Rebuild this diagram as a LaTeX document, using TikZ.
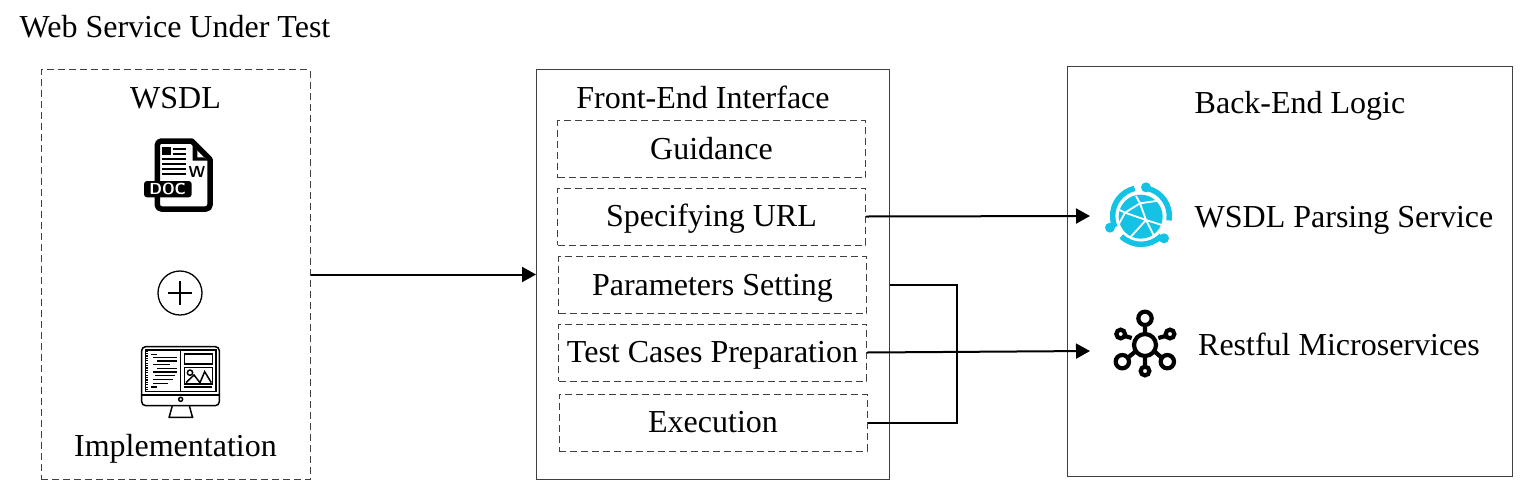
\documentclass[tikz,border=0pt]{standalone}
\usepackage{fontspec}
\setmainfont{Liberation Serif}
\usetikzlibrary{arrows.meta}
\definecolor{globecyan}{RGB}{20,195,228}
\tikzset{
    solidbox/.style={draw=black!75, line width=1pt},
    dashbox/.style={draw=black!75, line width=1pt, dash pattern=on 7pt off 4pt},
    stepbox/.style={dashbox, minimum width=308pt, minimum height=57pt, inner sep=0pt},
    label/.style={inner sep=0pt, text height=21pt, text depth=1pt, font=\fontsize{32}{34}\selectfont},
    flow/.style={line width=2pt, -{Triangle[length=14pt,width=15pt]}},
    wire/.style={line width=2pt}
}

\begin{document}
\begin{tikzpicture}[x=1pt,y=-1pt]
        \useasboundingbox (0,0) rectangle (1521,491);
        % outer boxes
        \node[dashbox, minimum width=269pt, minimum height=410pt, inner sep=0pt] (wsdlbox) at (175.5,274.5) {};
        \node[solidbox, minimum width=353pt, minimum height=410pt, inner sep=0pt] (frontbox) at (713,274.5) {};
        \node[solidbox, minimum width=445pt, minimum height=410pt, inner sep=0pt] (backbox) at (1290,271.5) {};
        % titles
        \node[label] (title) at (175,27) {Web Service Under Test};
        \node[label] (wsdl) at (175.5,98) {WSDL};
        \node[label] (impl) at (175.5,446) {Implementation};
        \node[label] (fronttitle) at (703,98) {Front-End Interface};
        \node[label] (backtitle) at (1300,103) {Back-End Logic};
        % steps
        \node[stepbox, label] (guidance) at (711.5,149) {Guidance};
        \node[stepbox, label] (url) at (711.5,216.5) {Specifying URL};
        \node[stepbox, label] (params) at (712.5,285) {Parameters Setting};
        \node[stepbox, label] (cases) at (712.5,352.5) {Test Cases Preparation};
        \node[stepbox, label] (exec) at (713,422.5) {Execution};
        % services
        \node[label] (parsing) at (1344,217) {WSDL Parsing Service};
        \node[label] (restful) at (1339,345.5) {Restful Microservices};
        \coordinate (parsingin) at (1090,216);
        \coordinate (restfulin) at (1090,351);
        \coordinate (joint) at (957,351);
        % connectors
        \draw[flow] (wsdlbox.east) -- (frontbox.west);
        \draw[flow] (url.east) -- (parsingin);
        \draw[flow] (cases.east) -- (restfulin);
        \draw[wire] (params.east -| frontbox.east) -| (joint);
        \draw[wire] (exec.east) -| (joint);
        % doc icon
        \begin{scope}[shift={(120,120)},scale=1/3]
            \draw[line width=5.5pt, line join=round] (112,200) -- (112,75) arc[start angle=180,end angle=270,radius=12] -- (215,63) -- (270,118) -- (270,255) arc[start angle=0,end angle=90,radius=12] -- (124,267) arc[start angle=90,end angle=180,radius=12] -- cycle;
            \fill (218,70) -- (218,122) -- (265,122) -- (250,112) -- (232,112) -- (232,92) -- cycle;
            \fill (127,82) rectangle (153,105);
            \fill (160,84) rectangle (198,90);
            \fill (160,98) rectangle (198,104);
            \fill (127,115) rectangle (198,121);
            \fill (127,130) rectangle (198,136);
            \fill (127,145) rectangle (198,151);
            \fill (127,160) rectangle (198,166);
            \fill[rounded corners=3pt] (72,183) rectangle (215,232);
            \node[text=white, inner sep=0pt, font=\fontsize{16}{16}\sffamily\bfseries] (doctext) at (143,208) {DOC};
            \node[inner sep=0pt, font=\fontsize{16}{16}\sffamily\bfseries] (wtext) at (231,155) {W};
        \end{scope}
        % plus sign
        \node[circle, draw, line width=1.3pt, minimum size=44pt, inner sep=0pt] (plus) at (180,293) {};
        \draw[line width=1.5pt] (plus.center) +(-12,0) -- +(12,0) (plus.center) +(0,-12) -- +(0,12);
        % monitor icon
        \begin{scope}[shift={(120,260)},scale=1/3, line width=1.5pt]
            \draw[rounded corners=4pt] (65,260) rectangle (298,437);
            \draw (65,405) -- (298,405);
            \draw (76,270) rectangle (288,395);
            \draw (182,270) -- (182,395);
            \draw[line width=2.6pt, dash pattern=on 1.2pt off 1.2pt] (80,272) -- (80,393);
            \draw (182,418) circle[radius=6];
            \draw (157,437) -- (148,470) (208,437) -- (217,470) (145,472) -- (220,472);
            \draw (193,282) rectangle (277,312);
            \draw (193,322) rectangle (277,372);
            \draw (193,381) -- (277,381);
            \draw (210,338) circle[radius=8];
            \draw (198,368) -- (222,345) -- (240,368) -- (254,335) -- (274,368);
            \foreach \xa/\xb/\ya in {93/112/283, 100/170/293, 112/170/303, 100/150/313, 112/170/325, 100/170/336, 105/165/347, 100/160/358, 100/145/370, 93/112/381}
                \draw (\xa,\ya) -- (\xb,\ya);
        \end{scope}
        % globe icon
        \begin{scope}[shift={(1090,170)},scale=1/3]
            \fill[globecyan] (152,140) circle[radius=66];
            \draw[white, line width=1.8pt] (138,78) -- (150,100) -- (105,128) -- (85,118) (150,100) -- (205,92) (150,100) -- (168,150) -- (215,165) (105,128) -- (168,150) -- (118,205) (105,128) -- (85,165) (168,150) -- (192,198);
            \draw[globecyan, line width=5.5pt] (153,138) ++(-78:85) arc[start angle=-78,end angle=9,radius=85];
            \draw[globecyan, line width=5.5pt] (153,138) ++(44:85) arc[start angle=44,end angle=134,radius=85];
            \draw[globecyan, line width=5.5pt] (153,138) ++(157:85) arc[start angle=157,end angle=257,radius=85];
            \fill[globecyan] (168,52) circle[radius=15] (222,205) circle[radius=15] (60,173) circle[radius=15];
        \end{scope}
        % hub icon
        \begin{scope}[shift={(1090,300)},scale=1/3, line width=4.2pt]
            \draw (165,135) circle[radius=33];
            \draw (165,55) circle[radius=20];
            \draw (97,185) circle[radius=20];
            \draw (232,185) circle[radius=20];
            \draw (92,102) circle[radius=13];
            \draw (240,102) circle[radius=13];
            \draw (165,213) circle[radius=13];
            \draw (165,76) -- (165,103) (115,172) -- (138,153) (214,172) -- (192,153) (105,108) -- (125,114) (227,108) -- (205,114) (165,167) -- (165,199);
        \end{scope}
    \end{tikzpicture}
\end{document}
